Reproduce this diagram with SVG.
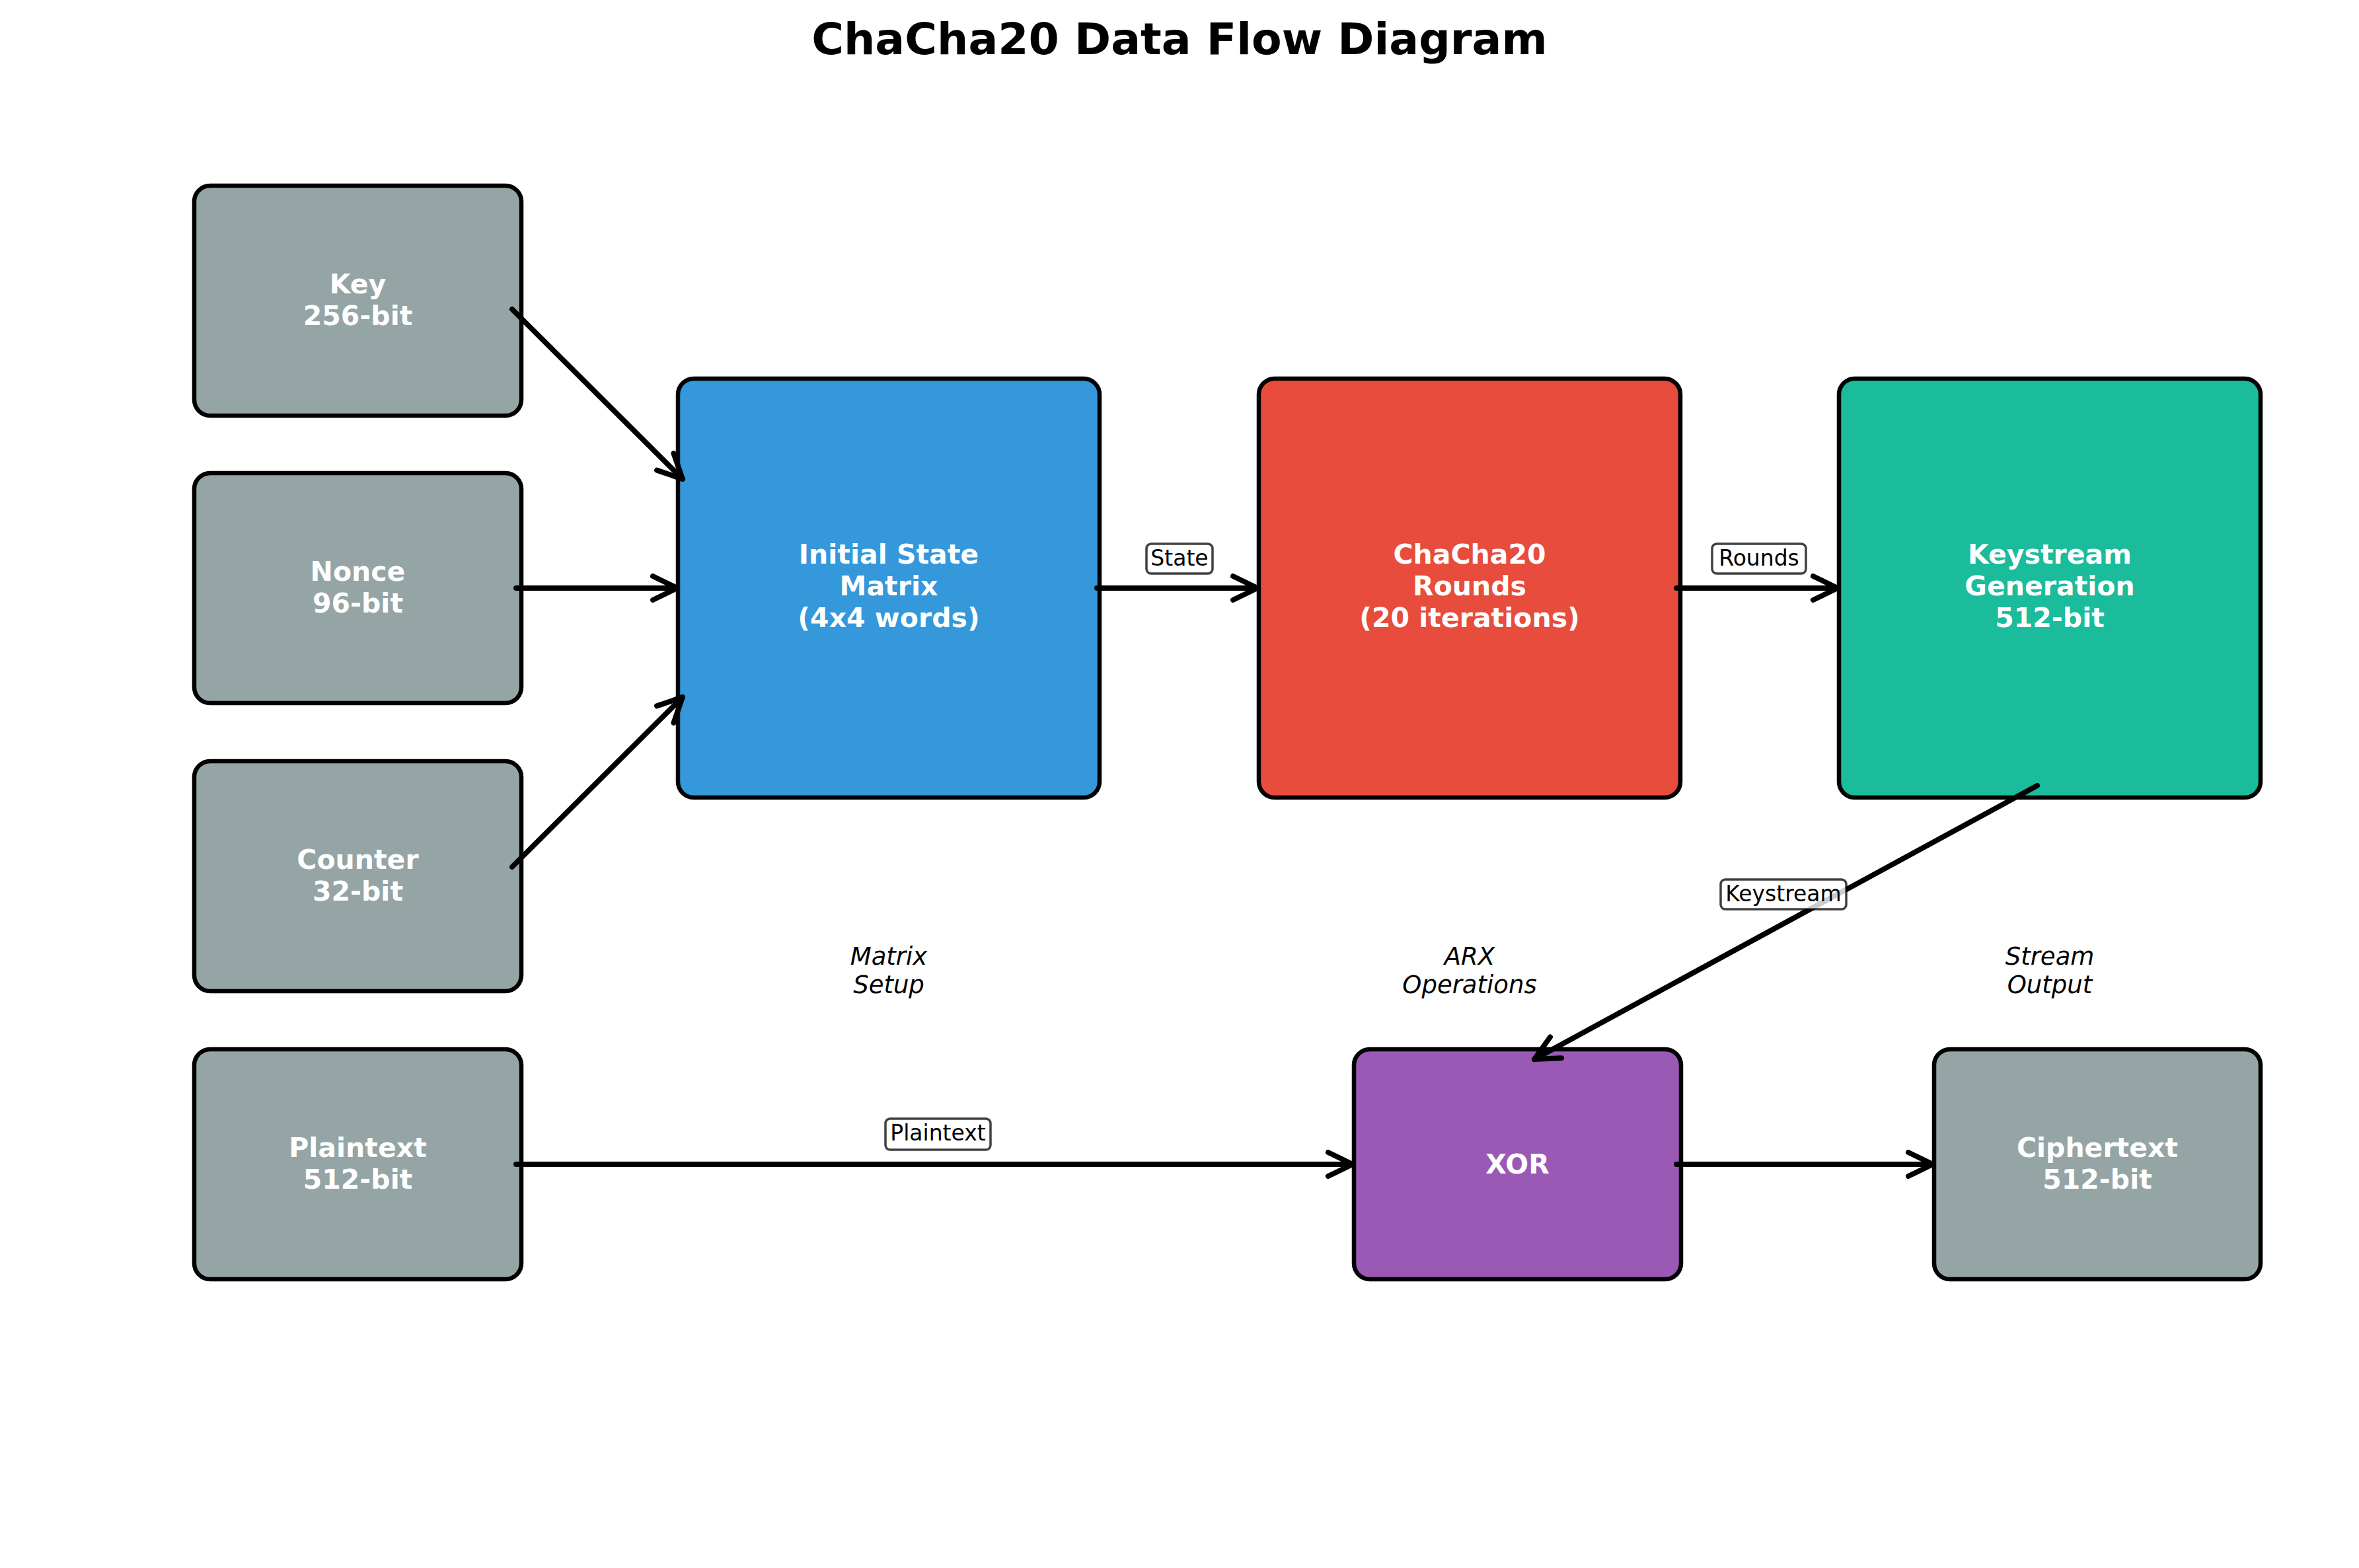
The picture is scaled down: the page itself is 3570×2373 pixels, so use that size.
<svg xmlns="http://www.w3.org/2000/svg" width="3570" height="2373" viewBox="0 0 3570 2373">
<style>
.box{stroke:#000;stroke-width:6.5;}
.gray{fill:#95A5A6;}
.blue{fill:#3498DB;}
.red{fill:#E74C3C;}
.green{fill:#1ABC9C;}
.purple{fill:#9B59B6;}
.nt{font-family:"DejaVu Sans",sans-serif;font-weight:bold;font-size:41px;fill:#fff;text-anchor:middle;}
.title{font-family:"DejaVu Sans",sans-serif;font-weight:bold;font-size:66.5px;fill:#000;text-anchor:middle;}
.it{font-family:"DejaVu Sans",sans-serif;font-style:italic;font-size:37px;fill:#000;text-anchor:middle;}
.lbl{font-family:"DejaVu Sans",sans-serif;font-size:33px;fill:#000;text-anchor:middle;}
.lblbox{fill:#fff;fill-opacity:0.8;stroke:#000;stroke-opacity:0.75;stroke-width:3.5;}
.conn{stroke:#000;stroke-width:8;stroke-linecap:round;fill:none;marker-end:url(#ah);}
</style>
<defs>
<marker id="ah" markerUnits="userSpaceOnUse" markerWidth="80" markerHeight="80" viewBox="-50 -40 80 80" refX="0" refY="0" orient="auto" overflow="visible">
<path d="M-37,-18 L0,0 L-37,18" fill="none" stroke="#000" stroke-width="8" stroke-linecap="round" stroke-linejoin="round"/>
</marker>
</defs>
<rect width="3570" height="2373" fill="#fff"/>
<text class="title" x="1785" y="82">ChaCha20 Data Flow Diagram</text>

<g id="node-key">
<rect class="box gray" x="294" y="281" width="495" height="348" rx="24"/>
<text class="nt" x="541.5" y="444">Key</text>
<text class="nt" x="541.5" y="492">256-bit</text>
</g>
<g id="node-nonce">
<rect class="box gray" x="294" y="716" width="495" height="348" rx="24"/>
<text class="nt" x="541.5" y="879">Nonce</text>
<text class="nt" x="541.5" y="927">96-bit</text>
</g>
<g id="node-counter">
<rect class="box gray" x="294" y="1152" width="495" height="348" rx="24"/>
<text class="nt" x="541.5" y="1315">Counter</text>
<text class="nt" x="541.5" y="1363">32-bit</text>
</g>
<g id="node-plaintext">
<rect class="box gray" x="294" y="1588" width="495" height="348" rx="24"/>
<text class="nt" x="541.5" y="1751">Plaintext</text>
<text class="nt" x="541.5" y="1799">512-bit</text>
</g>
<g id="node-initial">
<rect class="box blue" x="1026" y="573" width="638" height="634" rx="24"/>
<text class="nt" x="1345" y="853">Initial State</text>
<text class="nt" x="1345" y="901">Matrix</text>
<text class="nt" x="1345" y="949">(4x4 words)</text>
</g>
<g id="node-rounds">
<rect class="box red" x="1905" y="573" width="638" height="634" rx="24"/>
<text class="nt" x="2224" y="853">ChaCha20</text>
<text class="nt" x="2224" y="901">Rounds</text>
<text class="nt" x="2224" y="949">(20 iterations)</text>
</g>
<g id="node-keystream">
<rect class="box green" x="2783" y="573" width="638" height="634" rx="24"/>
<text class="nt" x="3102" y="853">Keystream</text>
<text class="nt" x="3102" y="901">Generation</text>
<text class="nt" x="3102" y="949">512-bit</text>
</g>
<g id="node-xor">
<rect class="box purple" x="2049" y="1588" width="495" height="348" rx="24"/>
<text class="nt" x="2296.5" y="1776">XOR</text>
</g>
<g id="node-ciphertext">
<rect class="box gray" x="2927" y="1588" width="494" height="348" rx="24"/>
<text class="nt" x="3174" y="1751">Ciphertext</text>
<text class="nt" x="3174" y="1799">512-bit</text>
</g>

<g id="stage-labels">
<text class="it" x="1345" y="1460">Matrix</text>
<text class="it" x="1345" y="1503">Setup</text>
<text class="it" x="2224" y="1460">ARX</text>
<text class="it" x="2224" y="1503">Operations</text>
<text class="it" x="3102" y="1460">Stream</text>
<text class="it" x="3102" y="1503">Output</text>
</g>

<g id="connectors">
<line class="conn" x1="775" y1="468" x2="1033" y2="725"/>
<line class="conn" x1="781" y1="890" x2="1025" y2="890"/>
<line class="conn" x1="775" y1="1312" x2="1033" y2="1055"/>
<line class="conn" x1="1660" y1="890" x2="1903" y2="890"/>
<line class="conn" x1="2537" y1="890" x2="2781" y2="890"/>
<line class="conn" x1="3083" y1="1189" x2="2322" y2="1603"/>
<line class="conn" x1="781" y1="1762" x2="2047" y2="1762"/>
<line class="conn" x1="2537" y1="1762" x2="2925" y2="1762"/>
</g>

<g id="connector-labels">
<rect class="lblbox" x="1735" y="823" width="100" height="45" rx="7"/>
<text class="lbl" x="1785" y="856">State</text>
<rect class="lblbox" x="2591" y="823" width="142" height="45" rx="7"/>
<text class="lbl" x="2662" y="856">Rounds</text>
<rect class="lblbox" x="2604" y="1331" width="190" height="45" rx="7"/>
<text class="lbl" x="2699" y="1364">Keystream</text>
<rect class="lblbox" x="1340" y="1693" width="159" height="47" rx="7"/>
<text class="lbl" x="1419.5" y="1726">Plaintext</text>
</g>
</svg>
